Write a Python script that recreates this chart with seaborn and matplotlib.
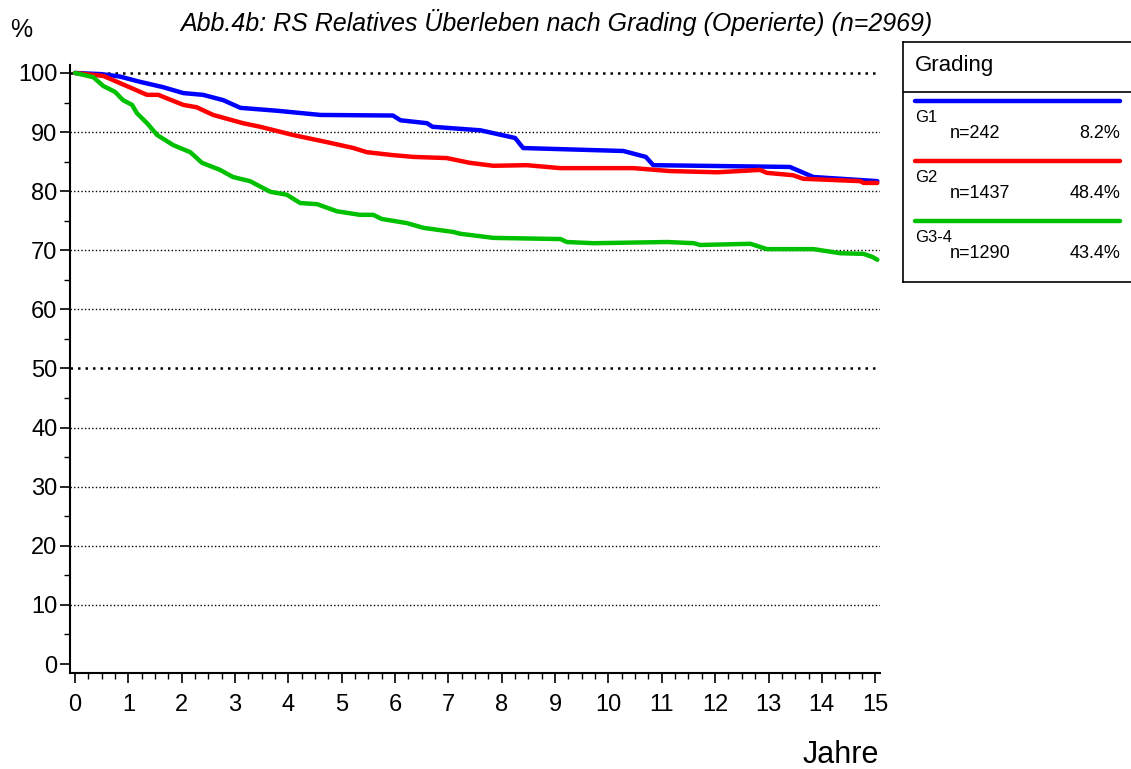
import numpy as np
import pandas as pd
import matplotlib
matplotlib.use("Agg")
import matplotlib.pyplot as plt
import seaborn as sns
from matplotlib.ticker import MultipleLocator

sns.set_theme(style="white")
plt.rcParams['font.family'] = ['Liberation Sans', 'DejaVu Sans']
plt.rcParams['text.color'] = 'black'

# ---- data ----
g1_years = [0, 0.5, 0.84, 1.22, 1.65, 2.03, 2.4, 2.78, 3.1, 3.8, 4.6, 5.96, 6.1, 6.6, 6.7, 7.6, 8.25, 8.4, 10.28, 10.7, 10.84, 13.4, 13.84, 15.04]
g1_surv = [100, 99.8, 99.4, 98.5, 97.6, 96.6, 96.3, 95.4, 94.1, 93.6, 92.9, 92.8, 92.0, 91.5, 90.9, 90.3, 89.0, 87.3, 86.8, 85.8, 84.4, 84.1, 82.4, 81.7]

g2_years = [0, 0.53, 0.84, 1.35, 1.56, 2.03, 2.28, 2.59, 3.15, 3.47, 4.09, 4.72, 5.22, 5.47, 5.96, 6.34, 6.97, 7.4, 7.84, 8.47, 9.1, 10.47, 11.16, 12.04, 12.84, 12.97, 13.46, 13.65, 14.72, 14.78, 15.04]
g2_surv = [100, 99.5, 98.3, 96.3, 96.3, 94.6, 94.2, 92.9, 91.5, 90.9, 89.5, 88.3, 87.3, 86.6, 86.1, 85.8, 85.6, 84.8, 84.3, 84.4, 83.9, 83.9, 83.4, 83.2, 83.6, 83.1, 82.7, 82.1, 81.7, 81.4, 81.4]

g34_years = [0, 0.34, 0.53, 0.75, 0.9, 1.07, 1.16, 1.35, 1.54, 1.84, 2.16, 2.38, 2.72, 2.96, 3.28, 3.66, 3.97, 4.22, 4.54, 4.91, 5.34, 5.59, 5.75, 6.22, 6.53, 7.09, 7.22, 7.84, 9.1, 9.22, 9.72, 11.1, 11.6, 11.72, 12.66, 12.97, 13.84, 14.35, 14.78, 14.94, 15.04]
g34_surv = [100, 99.3, 97.8, 96.8, 95.4, 94.6, 93.2, 91.5, 89.5, 87.8, 86.6, 84.8, 83.6, 82.4, 81.7, 79.9, 79.4, 78.0, 77.8, 76.6, 76.0, 76.0, 75.3, 74.6, 73.8, 73.1, 72.8, 72.1, 71.9, 71.4, 71.2, 71.4, 71.2, 70.9, 71.1, 70.2, 70.2, 69.5, 69.4, 68.9, 68.4]

groups = ["G1", "G2", "G3-4"]
group_n = [242, 1437, 1290]
group_pct = ["8.2%", "48.4%", "43.4%"]
colors = ["#0000ff", "#ff0000", "#00c000"]

x_ticks = list(range(0, 16))
y_ticks = list(range(0, 101, 10))

df = pd.concat([
    pd.DataFrame({"Jahre": g1_years, "Surv": g1_surv, "Grading": "G1"}),
    pd.DataFrame({"Jahre": g2_years, "Surv": g2_surv, "Grading": "G2"}),
    pd.DataFrame({"Jahre": g34_years, "Surv": g34_surv, "Grading": "G3-4"}),
])

fig = plt.figure(figsize=(11.31, 7.69), dpi=100)
ax = fig.add_axes([70/1131, 1-673/769, (880-70)/1131, (673-65)/769])

# gridlines
for yv in y_ticks[1:]:
    heavy = yv in (50, 100)
    ax.axhline(yv, color="black", lw=1.8 if heavy else 1.0,
               ls=(0, (1, 2)) if heavy else (0, (1, 1.6)), zorder=1)

sns.lineplot(data=df, x="Jahre", y="Surv", hue="Grading", palette=colors,
             sort=False, estimator=None, lw=3.2, ax=ax, legend=False, zorder=3)

ax.set_xlim(-0.094, 15.09)
ax.set_ylim(-1.52, 101.35)
ax.set_xticks(x_ticks)
ax.set_yticks(y_ticks)
ax.xaxis.set_minor_locator(MultipleLocator(0.25))
ax.yaxis.set_minor_locator(MultipleLocator(5))
ax.tick_params(axis="both", which="major", direction="out", length=7, width=1.2,
               labelsize=17, color="black", labelcolor="black", bottom=True, left=True)
ax.tick_params(axis="both", which="minor", direction="out", length=4, width=1.0,
               color="black", bottom=True, left=True)
ax.tick_params(axis="x", which="major", pad=8)
ax.tick_params(axis="y", which="major", pad=2)
for s in ["top", "right"]:
    ax.spines[s].set_visible(False)
for s in ["left", "bottom"]:
    ax.spines[s].set_color("black")
    ax.spines[s].set_linewidth(1.5)
ax.set_xlabel("")
ax.set_ylabel("")

fig.text(21/1131, 1-30/769, "%", fontsize=18, ha="center", va="center")
fig.text(556/1131, 1-22/769, "Abb.4b: RS Relatives Überleben nach Grading (Operierte) (n=2969)",
         fontsize=18, style="italic", ha="center", va="center")
fig.text(841/1131, 1-755/769, "Jahre", fontsize=22, ha="center", va="center")

# legend box
lax = fig.add_axes([903/1131, 1-282/769, (1131-903)/1131, (282-42)/769])
lax.set_xlim(903, 1131)
lax.set_ylim(282, 42)
lax.set_xticks([])
lax.set_yticks([])
for s in ["top", "left", "bottom"]:
    lax.spines[s].set_color("black")
    lax.spines[s].set_linewidth(1.2)
lax.spines["right"].set_visible(False)
lax.axhline(92, color="black", lw=1.2)
lax.text(915, 66, "Grading", fontsize=16, va="center", ha="left")
for i, (g, n, p, c) in enumerate(zip(groups, group_n, group_pct, colors)):
    y0 = 101 + 60 * i
    lax.plot([915, 1120], [y0, y0], color=c, lw=3.2)
    lax.text(915, y0 + 16, g, fontsize=12, va="center", ha="left")
    lax.text(950, y0 + 32, f"n={n}", fontsize=13, va="center", ha="left")
    lax.text(1120, y0 + 32, p, fontsize=13, va="center", ha="right")

fig.savefig("out.png", dpi=100, facecolor="white")
